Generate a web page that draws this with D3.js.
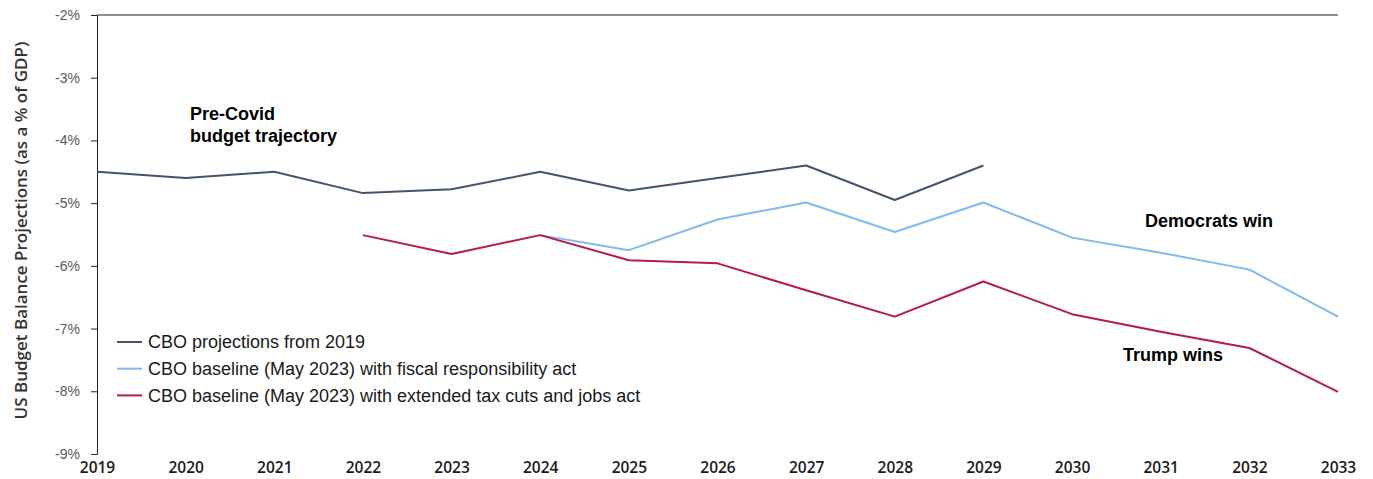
<!DOCTYPE html>
<html>
<head>
<meta charset="utf-8">
<script src="https://cdn.jsdelivr.net/npm/d3@7"></script>
<style>
  body { margin: 0; background: #fff; }
  svg { display: block; font-family: "Liberation Sans", Arial, sans-serif; }
  .note { font-weight: bold; font-size: 18px; fill: #000; }
  .legend text { font-size: 18px; fill: #1a1a1a; }
</style>
</head>
<body>
<svg id="chart" width="1373" height="479"></svg>
<script>
  // years on the x axis
  var years = [2019, 2020, 2021, 2022, 2023, 2024, 2025, 2026, 2027, 2028, 2029, 2030, 2031, 2032, 2033];

  // budget balance, % of GDP (null = no value)
  var cbo2019 = [-4.50, -4.60, -4.50, -4.84, -4.78, -4.50, -4.80, -4.60, -4.40, -4.95, -4.40, null, null, null, null];
  var fiscalAct = [null, null, null, null, null, -5.51, -5.75, -5.26, -4.99, -5.46, -4.99, -5.55, -5.79, -6.06, -6.81];
  var taxCuts = [null, null, null, -5.51, -5.81, -5.51, -5.91, -5.96, -6.39, -6.81, -6.25, -6.77, -7.05, -7.31, -8.01];

  var yTicks = [-2, -3, -4, -5, -6, -7, -8, -9];

  var seriesNames = [
    "CBO projections from 2019",
    "CBO baseline (May 2023) with fiscal responsibility act",
    "CBO baseline (May 2023) with extended tax cuts and jobs act"
  ];
  var seriesColors = ["#44546a", "#7fbaee", "#b8194c"];

  var svg = d3.select("#chart");
  var margin = { left: 97, right: 35, top: 15, bottom: 25 };
  var width = 1373, height = 479;

  var x = d3.scaleLinear().domain([2019, 2033]).range([margin.left, width - margin.right]);
  var y = d3.scaleLinear().domain([-9, -2]).range([height - margin.bottom, margin.top]);

  // top horizontal line (axis crosses at -2%)
  svg.append("line")
    .attr("x1", x(2019)).attr("x2", x(2033))
    .attr("y1", y(-2)).attr("y2", y(-2))
    .attr("stroke", "#222").attr("stroke-width", 1);

  // y axis
  var yAxis = svg.append("g")
    .attr("transform", "translate(" + x(2019) + ",0)")
    .call(d3.axisLeft(y).tickValues(yTicks).tickSize(6).tickPadding(11)
      .tickFormat(function(d) { return d + "%"; }));
  yAxis.select(".domain").attr("stroke", "#222");
  yAxis.selectAll(".tick line").attr("stroke", "#222");
  yAxis.selectAll("text").attr("font-size", 14).attr("fill", "#595959")
    .attr("font-family", "'Liberation Sans', Arial, sans-serif");

  // x labels below the plot
  var xAxis = svg.append("g")
    .attr("transform", "translate(0," + y(-9) + ")")
    .call(d3.axisBottom(x).tickValues(years).tickSize(0).tickPadding(8).tickFormat(d3.format("d")));
  xAxis.select(".domain").remove();
  xAxis.selectAll("text").attr("font-size", 15.5).attr("font-weight", 600).attr("fill", "#1a1a1a")
    .attr("font-family", "'Open Sans', sans-serif");

  // y title
  svg.append("text")
    .attr("transform", "translate(27," + ((margin.top + height - margin.bottom) / 2 - 4) + ") rotate(-90)")
    .attr("text-anchor", "middle")
    .attr("font-family", "'Open Sans', sans-serif")
    .attr("font-weight", 600)
    .attr("font-size", 17)
    .attr("fill", "#333")
    .text("US Budget Balance Projections (as a % of GDP)");

  var line = d3.line()
    .defined(function(d) { return d[1] !== null; })
    .x(function(d) { return x(d[0]); })
    .y(function(d) { return y(d[1]); });

  [cbo2019, fiscalAct, taxCuts].forEach(function(vals, i) {
    svg.append("path")
      .datum(years.map(function(yr, j) { return [yr, vals[j]]; }))
      .attr("fill", "none")
      .attr("stroke", seriesColors[i])
      .attr("stroke-width", 2)
      .attr("stroke-linejoin", "round")
      .attr("d", line);
  });

  // annotations
  svg.append("text").attr("class", "note").attr("x", 190).attr("y", 120).text("Pre-Covid");
  svg.append("text").attr("class", "note").attr("x", 190).attr("y", 142).text("budget trajectory");
  svg.append("text").attr("class", "note").attr("x", 1145).attr("y", 227).text("Democrats win");
  svg.append("text").attr("class", "note").attr("x", 1123).attr("y", 361).text("Trump wins");

  // legend
  var legend = svg.append("g").attr("class", "legend").attr("transform", "translate(117,342)");
  seriesNames.forEach(function(name, i) {
    var g = legend.append("g").attr("transform", "translate(0," + (i * 26.7) + ")");
    g.append("line").attr("x1", 0).attr("x2", 25).attr("y1", 0).attr("y2", 0)
      .attr("stroke", seriesColors[i]).attr("stroke-width", 2);
    g.append("text").attr("x", 31).attr("y", 0).attr("dy", "0.35em")
      .text(name);
  });
</script>
</body>
</html>
